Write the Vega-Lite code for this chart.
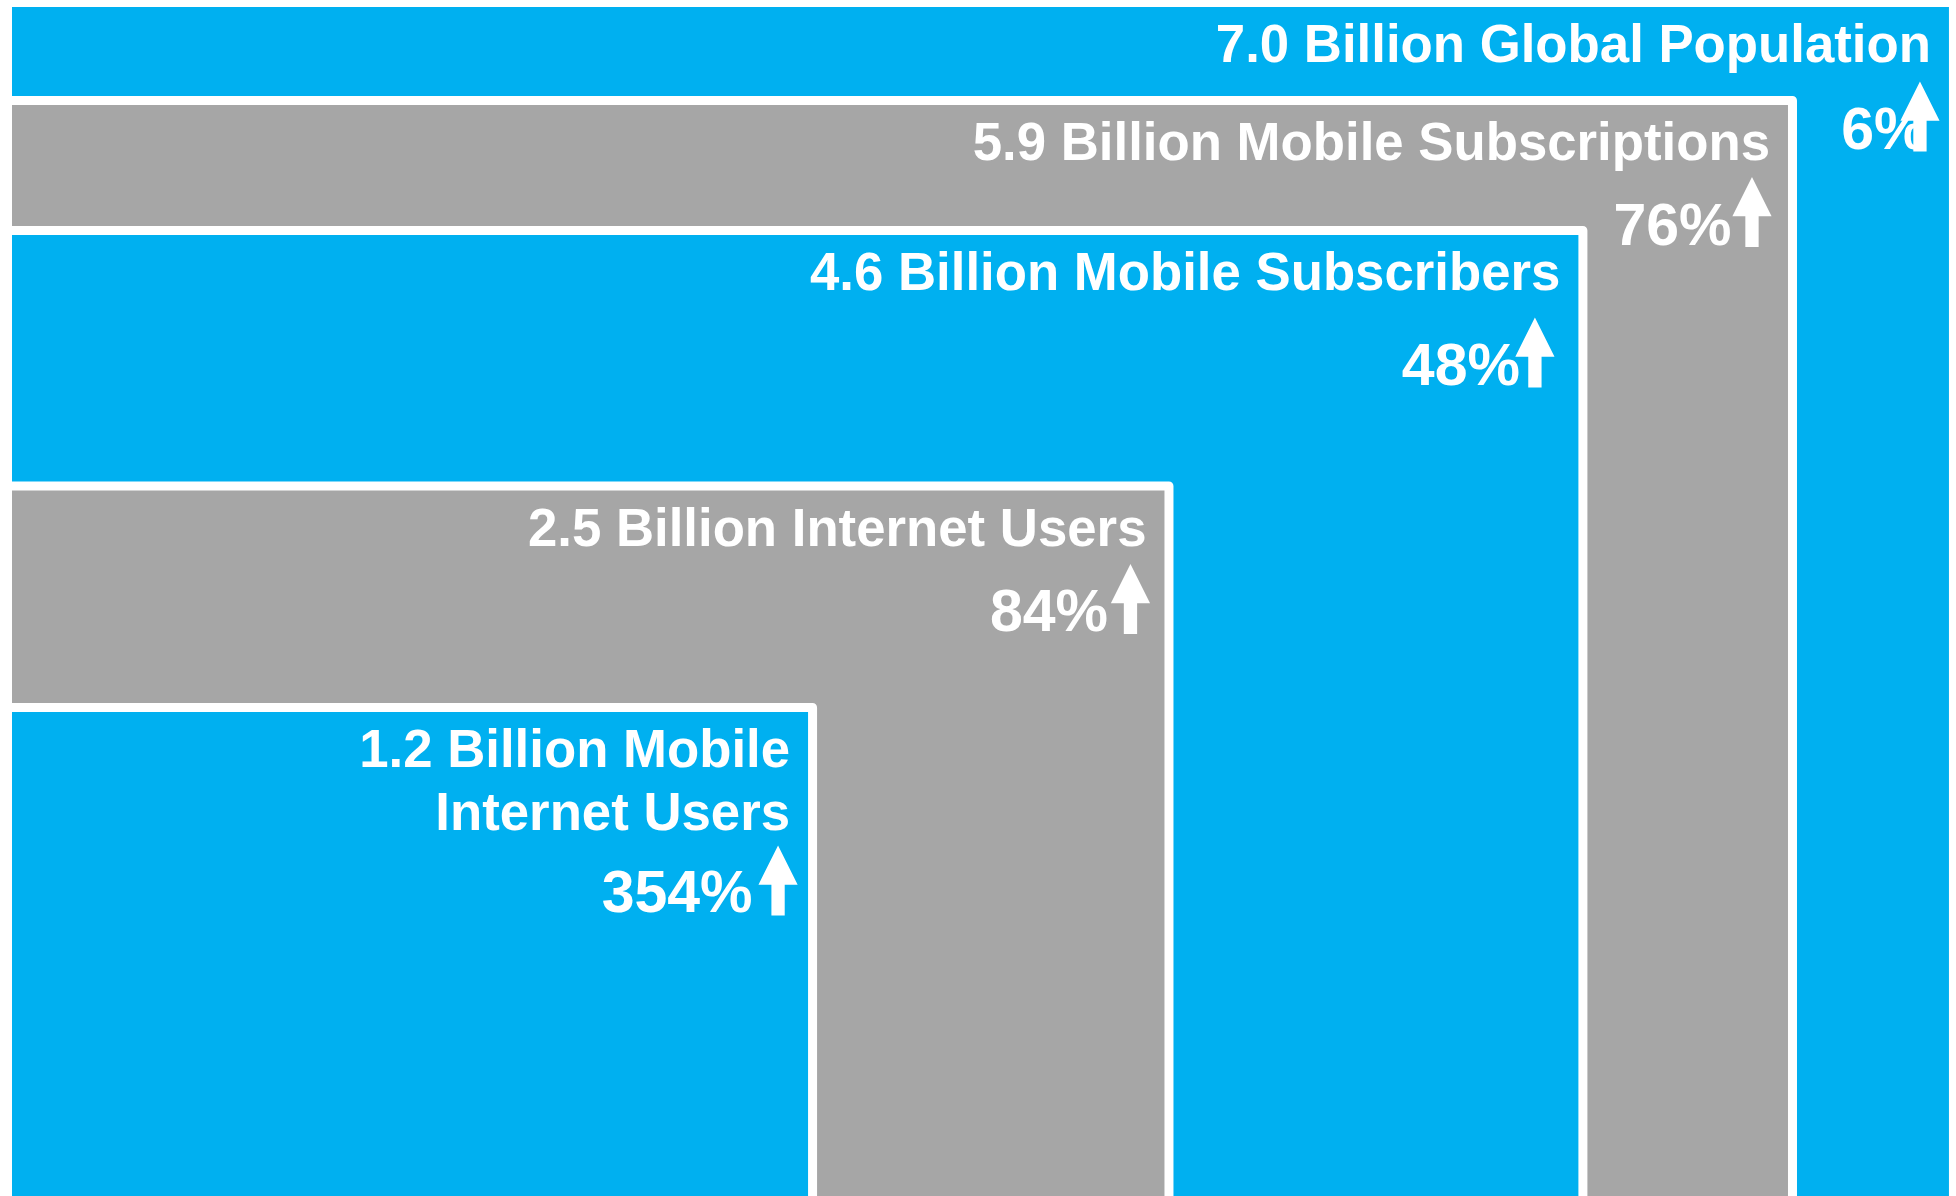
{
  "$schema": "https://vega.github.io/schema/vega-lite/v6.json",
  "width": 1937,
  "height": 1189,
  "autosize": {"type": "none"},
  "padding": {"left": 12, "top": 7, "right": 7, "bottom": 0},
  "background": "white",
  "config": {"view": {"stroke": null}},
  "data": {
    "values": [
      {"key": "population", "label": "7.0 Billion Global Population", "billions": 7.0, "growth": "6%", "xShare": 1.0023, "yShare": 1.0038},
      {"key": "subscriptions", "label": "5.9 Billion Mobile Subscriptions", "billions": 5.9, "growth": "76%", "xShare": 0.9192, "yShare": 0.9214},
      {"key": "subscribers", "label": "4.6 Billion Mobile Subscribers", "billions": 4.6, "growth": "48%", "xShare": 0.8110, "yShare": 0.8120},
      {"key": "internet", "label": "2.5 Billion Internet Users", "billions": 2.5, "growth": "84%", "xShare": 0.5973, "yShare": 0.5971},
      {"key": "mobileInternet", "label": "1.2 Billion Mobile\nInternet Users", "billions": 1.2, "growth": "354%", "xShare": 0.4133, "yShare": 0.4109}
    ]
  },
  "encoding": {
    "x": {"field": "xShare", "type": "quantitative", "scale": {"domain": [0, 1], "nice": false}, "axis": null},
    "y": {"field": "yShare", "type": "quantitative", "scale": {"domain": [0, 1], "nice": false}, "axis": null}
  },
  "layer": [
    {
      "mark": {"type": "rect", "clip": true, "stroke": "white", "strokeWidth": 9, "strokeJoin": "round"},
      "encoding": {
        "x2": {"datum": -0.05},
        "y2": {"datum": -0.05},
        "color": {
          "field": "key",
          "type": "nominal",
          "scale": {
            "domain": ["population", "subscriptions", "subscribers", "internet", "mobileInternet"],
            "range": ["#00B0F0", "#A6A6A6", "#00B0F0", "#A6A6A6", "#00B0F0"]
          },
          "legend": null
        }
      }
    },
    {
      "mark": {"type": "text", "align": "right", "baseline": "alphabetic", "dx": -22.5, "dy": 59.5, "font": "Liberation Sans", "fontWeight": "bold", "fontSize": 52.75, "fill": "white", "lineBreak": "\n", "lineHeight": 63.3},
      "encoding": {"text": {"field": "label", "type": "nominal"}}
    },
    {
      "transform": [{"filter": "datum.key === 'subscriptions' || datum.key === 'internet'"}],
      "mark": {"type": "text", "align": "right", "baseline": "alphabetic", "dx": -61, "dy": 145, "font": "Liberation Sans", "fontWeight": "bold", "fontSize": 59, "fill": "white"},
      "encoding": {"text": {"field": "growth", "type": "nominal"}}
    },
    {
      "transform": [{"filter": "datum.key === 'population'"}],
      "mark": {"type": "text", "align": "right", "baseline": "alphabetic", "dx": -27, "dy": 146.5, "font": "Liberation Sans", "fontWeight": "bold", "fontSize": 59, "fill": "white"},
      "encoding": {"text": {"field": "growth", "type": "nominal"}}
    },
    {
      "transform": [{"filter": "datum.key === 'subscribers'"}],
      "mark": {"type": "text", "align": "right", "baseline": "alphabetic", "dx": -63, "dy": 154.5, "font": "Liberation Sans", "fontWeight": "bold", "fontSize": 59, "fill": "white"},
      "encoding": {"text": {"field": "growth", "type": "nominal"}}
    },
    {
      "transform": [{"filter": "datum.key === 'mobileInternet'"}],
      "mark": {"type": "text", "align": "right", "baseline": "alphabetic", "dx": -60, "dy": 204.5, "font": "Liberation Sans", "fontWeight": "bold", "fontSize": 59, "fill": "white"},
      "encoding": {"text": {"field": "growth", "type": "nominal"}}
    },
    {
      "transform": [{"filter": "datum.key === 'population'"}],
      "mark": {"type": "point", "shape": "M0,-1L0.56,0.12L0.19,0.12L0.19,1L-0.19,1L-0.19,0.12L-0.56,0.12Z", "size": 4900, "filled": true, "fill": "white", "opacity": 1, "strokeWidth": 0, "xOffset": -33.5, "yOffset": 114}
    },
    {
      "transform": [{"filter": "datum.key === 'subscriptions'"}],
      "mark": {"type": "point", "shape": "M0,-1L0.56,0.12L0.19,0.12L0.19,1L-0.19,1L-0.19,0.12L-0.56,0.12Z", "size": 4900, "filled": true, "fill": "white", "opacity": 1, "strokeWidth": 0, "xOffset": -40.5, "yOffset": 111.5}
    },
    {
      "transform": [{"filter": "datum.key === 'subscribers'"}],
      "mark": {"type": "point", "shape": "M0,-1L0.56,0.12L0.19,0.12L0.19,1L-0.19,1L-0.19,0.12L-0.56,0.12Z", "size": 4900, "filled": true, "fill": "white", "opacity": 1, "strokeWidth": 0, "xOffset": -48, "yOffset": 122}
    },
    {
      "transform": [{"filter": "datum.key === 'internet'"}],
      "mark": {"type": "point", "shape": "M0,-1L0.56,0.12L0.19,0.12L0.19,1L-0.19,1L-0.19,0.12L-0.56,0.12Z", "size": 4900, "filled": true, "fill": "white", "opacity": 1, "strokeWidth": 0, "xOffset": -38.5, "yOffset": 113}
    },
    {
      "transform": [{"filter": "datum.key === 'mobileInternet'"}],
      "mark": {"type": "point", "shape": "M0,-1L0.56,0.12L0.19,0.12L0.19,1L-0.19,1L-0.19,0.12L-0.56,0.12Z", "size": 4900, "filled": true, "fill": "white", "opacity": 1, "strokeWidth": 0, "xOffset": -34.5, "yOffset": 173}
    }
  ]
}
